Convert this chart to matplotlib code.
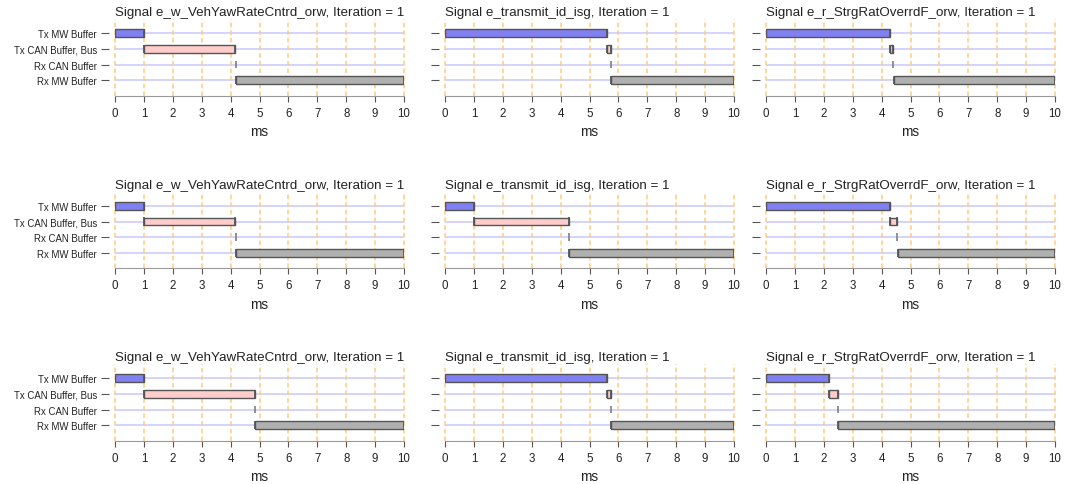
import matplotlib
matplotlib.use("Agg")
import matplotlib.pyplot as plt

plt.rcParams['font.family'] = ['Liberation Sans', 'DejaVu Sans']

signals = ["e_w_VehYawRateCntrd_orw", "e_transmit_id_isg", "e_r_StrgRatOverrdF_orw"]
stages = ["Tx MW Buffer", "Tx CAN Buffer, Bus", "Rx CAN Buffer", "Rx MW Buffer"]
iteration = 1

# stage boundaries (ms) per panel: stage i spans b[i] .. b[i+1]
bounds_row1 = [[0, 1.00, 4.16, 4.18, 10],
               [0, 5.61, 5.73, 5.75, 10],
               [0, 4.28, 4.40, 4.42, 10]]
bounds_row2 = [[0, 1.00, 4.16, 4.18, 10],
               [0, 1.00, 4.28, 4.30, 10],
               [0, 4.29, 4.54, 4.56, 10]]
bounds_row3 = [[0, 1.00, 4.84, 4.86, 10],
               [0, 5.61, 5.73, 5.75, 10],
               [0, 2.17, 2.48, 2.50, 10]]
all_bounds = [bounds_row1, bounds_row2, bounds_row3]
xticks = list(range(0, 11))

colors = ["#8080f2", "#ffcccc", "#b8b8b8", "#b0b0b0"]
edge = "#555555"

fig = plt.figure(figsize=(10.65, 4.85), dpi=100)
W, H = 1065, 485
lefts = [115, 445, 766]
aw = 289
tops = [20, 192.7, 365]
ah = 76.5

for r in range(3):
    for c in range(3):
        ax = fig.add_axes([lefts[c] / W, 1 - (tops[r] + ah) / H, aw / W, ah / H])
        ax.spines["left"].set_position(("outward", 4))
        b = all_bounds[r][c]
        ys = list(range(len(stages)))
        # grid lines
        for y in ys:
            ax.axhline(y, color="#ccccff", lw=1.2, zorder=1)
        for x in xticks:
            ax.axvline(x, color="#ffcc80", lw=1.1, ls=(0, (3, 2)), zorder=1, clip_on=False)
        for i, y in enumerate(ys):
            s, e = b[i], b[i + 1]
            if e - s < 0.05:
                ax.vlines([s + (e - s) / 2], y - 0.25, y + 0.25, color="#888888", lw=1.3, zorder=4)
                continue
            ax.barh(y, e - s, left=s, height=0.5, color=colors[i], edgecolor=edge,
                    linewidth=1.0, zorder=3)
            ax.vlines([s, e], y - 0.27, y + 0.27, color=edge, lw=1.3, zorder=4)
        ax.set_xlim(0, 10)
        ax.set_ylim(3.98, -0.91)
        ax.set_xticks(xticks)
        ax.set_xticklabels([str(t) for t in xticks], fontsize=8.3, color="#222222")
        ax.set_yticks(ys)
        if c == 0:
            ax.set_yticklabels(stages, fontsize=6.9, color="#222222")
        else:
            ax.set_yticklabels([""] * len(stages))
        ax.tick_params(axis='y', length=6, width=0.8, color="#555555", pad=3)
        ax.tick_params(axis='x', length=4, width=0.8, color="#555555", pad=4)
        for sp in ["top", "right", "left"]:
            ax.spines[sp].set_visible(False)
        ax.spines["bottom"].set_color("#999999")
        ax.spines["bottom"].set_linewidth(0.8)
        ax.set_xlabel("ms", fontsize=9.8, color="#222222", labelpad=4)
        ax.set_title(f"Signal {signals[c]}, Iteration = {iteration}", fontsize=9.6,
                     loc="left", pad=3, color="#222222")

fig.savefig("out.png", dpi=100)
